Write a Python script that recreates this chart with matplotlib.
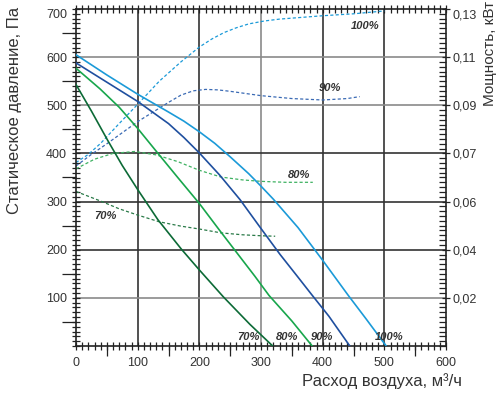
import numpy as np
import matplotlib.pyplot as plt
from matplotlib.ticker import MultipleLocator, FixedLocator, NullFormatter

plt.rcParams['font.family'] = ['Liberation Sans', 'DejaVu Sans']

# pressure curves, Pa vs m3/h
flow_100 = [0, 50, 100, 150, 175, 200, 225, 250, 280, 300, 320, 360, 400, 441, 470, 503]
pres_100 = [605, 563, 523, 486, 467, 445, 421, 393, 358, 332, 305, 246, 178, 106, 57, 0]
flow_90 = [0, 50, 100, 150, 175, 200, 233, 266, 300, 331, 360, 382, 410, 444]
pres_90 = [588, 548, 508, 462, 433, 401, 355, 304, 244, 190, 143, 107, 62, 0]
flow_80 = [0, 39, 70, 100, 133, 165, 200, 233, 266, 290, 313, 350, 383]
pres_80 = [577, 534, 496, 452, 400, 350, 296, 240, 185, 145, 105, 52, 0]
flow_70 = [0, 25, 51, 75, 100, 133, 171, 200, 239, 282, 319]
pres_70 = [543, 488, 428, 375, 325, 262, 201, 158, 102, 45, 0]

# power curves, kW vs m3/h
pflow_100 = [0, 20, 40, 70, 100, 135, 170, 200, 220, 240, 260, 280, 305, 330, 400, 450, 500]
power_100 = [0.0681, 0.0698, 0.0742, 0.0824, 0.0904, 0.100, 0.108, 0.1142, 0.1175,
             0.1202, 0.1222, 0.1238, 0.125, 0.1258, 0.1272, 0.128, 0.1292]
pflow_90 = [0, 25, 50, 100, 150, 170, 190, 210, 230, 250, 300, 350, 400, 440, 460]
power_90 = [0.0674, 0.0698, 0.074, 0.0832, 0.0912, 0.0942, 0.0960, 0.0966, 0.0964,
            0.0958, 0.094, 0.0928, 0.0922, 0.0928, 0.0936]
pflow_80 = [0, 30, 60, 95, 130, 165, 200, 235, 270, 300, 340, 384]
power_80 = [0.0668, 0.0688, 0.070, 0.0708, 0.0697, 0.0683, 0.0665, 0.0651,
            0.0645, 0.0642, 0.064, 0.064]
pflow_70 = [0, 40, 70, 100, 135, 170, 200, 235, 270, 300, 323]
power_70 = [0.0621, 0.0601, 0.057, 0.0544, 0.0516, 0.0498, 0.0486, 0.047,
            0.0462, 0.0458, 0.0456]

# right axis labels as printed on the chart (not linear)
pres_ticks = [0, 100, 200, 300, 400, 500, 600, 700]
power_ticks = [0.0, 0.02, 0.04, 0.06, 0.07, 0.09, 0.11, 0.13]
pres_labels = ['100', '200', '300', '400', '500', '600', '700']
power_labels = ['0,02', '0,04', '0,06', '0,07', '0,09', '0,11', '0,13']

c100 = '#1b9ad8'
c90 = '#1f4f9f'
c80 = '#18a64c'
c70 = '#0c6a36'
tick_col = '#222222'
text_col = '#333333'

def power_pos(kw):
    return np.interp(kw, power_ticks, pres_ticks)

fig = plt.figure(figsize=(4.99, 3.96), dpi=100)
ax = fig.add_axes([76/499, 1-346/396, 370/499, 337/396])

# grid
for x, col in [(100, '#333333'), (200, '#333333'), (300, '#8a8a8a'),
               (400, '#333333'), (500, '#333333')]:
    ax.axvline(x, color=col, lw=1.2, zorder=1)
for y, col in [(100, '#8a8a8a'), (200, '#333333'), (300, '#333333'),
               (400, '#333333'), (500, '#8a8a8a'), (600, '#8a8a8a')]:
    ax.axhline(y, color=col, lw=1.2, zorder=1)

dash = (0, (2.5, 1.8))
ax.plot(pflow_100, power_pos(power_100), color=c100, lw=0.9, ls=dash, zorder=2)
ax.plot(pflow_90, power_pos(power_90), color='#3a6ab4', lw=0.9, ls=dash, zorder=2)
ax.plot(pflow_80, power_pos(power_80), color='#3fb262', lw=0.9, ls=dash, zorder=2)
ax.plot(pflow_70, power_pos(power_70), color='#2a7a48', lw=0.9, ls=dash, zorder=2)

ax.plot(flow_100, pres_100, color=c100, lw=1.2, zorder=3)
ax.plot(flow_90, pres_90, color=c90, lw=1.2, zorder=3)
ax.plot(flow_80, pres_80, color=c80, lw=1.2, zorder=3)
ax.plot(flow_70, pres_70, color=c70, lw=1.2, zorder=3)

lab = dict(fontsize=8, fontweight='bold', fontstyle='italic', color=text_col,
           ha='center', va='center', zorder=4)
ax.text(469, 664, '100%', **lab)
ax.text(412, 536, '90%', **lab)
ax.text(362, 356, '80%', **lab)
ax.text(47, 271, '70%', **lab)
ax.text(280, 18, '70%', **lab)
ax.text(342, 18, '80%', **lab)
ax.text(399, 18, '90%', **lab)
ax.text(508, 18, '100%', **lab)

ax.set_xlim(0, 600)
ax.set_ylim(0, 700)
for s in ax.spines.values():
    s.set_color(tick_col)
    s.set_linewidth(1.2)

ax.xaxis.set_major_locator(MultipleLocator(100))
ax.xaxis.set_minor_locator(MultipleLocator(10))
ax.yaxis.set_major_locator(FixedLocator(pres_ticks[1:]))
ax.yaxis.set_major_formatter(NullFormatter())
ax.yaxis.set_minor_locator(MultipleLocator(10))
ax.tick_params(axis='x', which='major', direction='inout', length=6, width=0.9,
               labelsize=9, colors=tick_col, labelcolor=text_col, pad=5,
               top=True)
ax.tick_params(axis='x', which='minor', direction='inout', length=6, width=0.9,
               colors=tick_col, top=True)
ax.tick_params(axis='y', which='major', direction='inout', length=6, width=0.9,
               colors=tick_col)
ax.tick_params(axis='y', which='minor', direction='inout', length=6, width=0.9,
               colors=tick_col)

# longer outer ticks at the half steps
sx = ax.secondary_xaxis('bottom')
sx.set_xticks([50, 150, 250, 350, 450, 550])
sx.xaxis.set_major_formatter(NullFormatter())
sx.tick_params(direction='out', length=7, width=0.9, colors=tick_col)
sx.spines['bottom'].set_visible(False)
sy = ax.secondary_yaxis('left')
sy.set_yticks([50, 150, 250, 350, 450, 550, 650])
sy.yaxis.set_major_formatter(NullFormatter())
sy.tick_params(direction='out', length=10, width=0.9, colors=tick_col)
sy.spines['left'].set_visible(False)

ax2 = ax.twinx()
ax2.set_ylim(0, 700)
ax2.set_yticks(pres_ticks[1:])
ax2.yaxis.set_major_formatter(NullFormatter())
ax2.yaxis.set_minor_locator(MultipleLocator(10))
ax2.tick_params(axis='y', which='major', direction='inout', length=6, width=0.9,
                colors=tick_col)
ax2.tick_params(axis='y', which='minor', direction='in', length=5, width=0.9,
                colors=tick_col)
for s in ax2.spines.values():
    s.set_visible(False)

# tick labels (the top pair sits a little below its tick, as printed)
for pos, left_txt, right_txt in zip(pres_ticks[1:], pres_labels, power_labels):
    dy = -3.6 if pos == 700 else 0
    ax.annotate(left_txt, xy=(0, pos), xytext=(-6.5, dy), textcoords='offset points',
                ha='right', va='center_baseline', fontsize=9, color=text_col,
                annotation_clip=False)
    ax.annotate(right_txt, xy=(600, pos), xytext=(4.8, dy), textcoords='offset points',
                ha='left', va='center_baseline', fontsize=9, color=text_col,
                annotation_clip=False)

fig.text(15/499, 1-110/396, 'Статическое давление, Па', rotation=90,
         ha='center', va='center', fontsize=12, color=text_col)
fig.text(490/499, 1-1/396, 'Мощность, кВт', rotation=90,
         ha='center', va='top', fontsize=11, color=text_col)
fig.text(462/499, 1-381/396, 'Расход воздуха, м³/ч',
         ha='right', va='center', fontsize=12, color=text_col)

fig.savefig('out.png', dpi=100)
